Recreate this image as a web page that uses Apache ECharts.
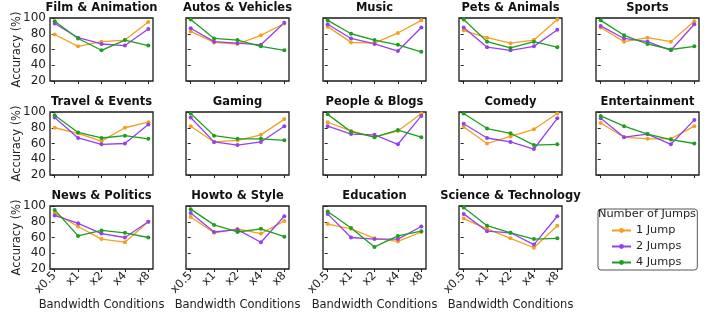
<!DOCTYPE html>
<html>
<head>
<meta charset="utf-8">
<script src="https://cdn.jsdelivr.net/npm/echarts@6/dist/echarts.min.js"></script>
<style>
  html, body { margin: 0; padding: 0; background: #fff; }
  #chart { width: 714px; height: 314px; }
</style>
</head>
<body>
<div id="chart"></div>
<script>
// bandwidth ticks
const CATEGORIES = ['x0.5', 'x1', 'x2', 'x4', 'x8'];

const GENRES = [
    'Film & Animation', 'Autos & Vehicles', 'Music', 'Pets & Animals', 'Sports',
    'Travel & Events', 'Gaming', 'People & Blogs', 'Comedy', 'Entertainment',
    'News & Politics', 'Howto & Style', 'Education', 'Science & Technology'
];

// accuracy (%) per genre, one row per genre
const ONE_JUMP = [
    [79, 64, 70, 72, 95],
    [83, 69, 67, 78, 93],
    [89, 69, 68, 81, 97],
    [84, 75, 68, 72, 98],
    [88, 70, 75, 70, 96],
    [80, 73, 63, 80, 87],
    [82, 62, 64, 71, 91],
    [87, 76, 68, 76, 98],
    [81, 60, 69, 78, 98],
    [86, 68, 66, 66, 82],
    [91, 74, 58, 54, 80],
    [86, 66, 71, 65, 81],
    [77, 71, 59, 55, 67],
    [84, 71, 59, 47, 75]
];

const TWO_JUMPS = [
    [93, 75, 67, 65, 86],
    [87, 70, 68, 66, 94],
    [92, 74, 67, 58, 88],
    [88, 63, 59, 64, 85],
    [90, 74, 70, 59, 92],
    [93, 67, 59, 60, 84],
    [93, 62, 58, 62, 82],
    [82, 72, 71, 59, 95],
    [85, 67, 62, 53, 92],
    [92, 68, 72, 59, 90],
    [88, 78, 65, 60, 80],
    [91, 67, 70, 54, 87],
    [90, 60, 58, 58, 74],
    [90, 68, 66, 51, 87]
];

const FOUR_JUMPS = [
    [96, 74, 59, 72, 65],
    [98, 74, 72, 64, 59],
    [97, 80, 72, 66, 57],
    [98, 70, 62, 70, 63],
    [97, 78, 67, 60, 64],
    [96, 74, 67, 70, 66],
    [98, 70, 66, 66, 64],
    [97, 75, 68, 77, 68],
    [98, 79, 73, 58, 59],
    [95, 82, 72, 65, 60],
    [95, 62, 69, 66, 60],
    [96, 76, 67, 71, 61],
    [93, 72, 48, 62, 68],
    [98, 75, 66, 58, 59]
];

const SERIES_DEF = [
    { name: '1 Jump', data: ONE_JUMP, color: '#F2A01E' },
    { name: '2 Jumps', data: TWO_JUMPS, color: '#9640EC' },
    { name: '4 Jumps', data: FOUR_JUMPS, color: '#1E9E1E' }
];

const FONT = 'DejaVu Sans';
const LEFTS = [50, 186, 323, 459, 596];
const TOPS = [18, 112, 206];
const W = 103, H = 63;

const chart = echarts.init(document.getElementById('chart'), null, { renderer: 'canvas' });

const grids = [], xAxes = [], yAxes = [], titles = [], series = [];

GENRES.forEach((genre, i) => {
    const row = Math.floor(i / 5), col = i % 5;
    // last row holds x labels; Entertainment sits above the legend slot so it has none
    const showX = row === 2;
    const showY = col === 0;

    grids.push({
        left: LEFTS[col], top: TOPS[row], width: W, height: H,
        show: true, borderColor: '#1a1a1a', borderWidth: 1.3, backgroundColor: 'transparent'
    });

    xAxes.push({
        gridIndex: i,
        type: 'value',
        min: -0.2,
        max: 4.2,
        splitLine: { show: false },
        axisLine: { show: false },
        axisTick: {
            show: true, length: 3, customValues: [0, 1, 2, 3, 4],
            lineStyle: { color: '#222', width: 1 }
        },
        axisLabel: {
            show: showX,
            customValues: [0, 1, 2, 3, 4],
            formatter: v => CATEGORIES[Math.round(v)],
            rotate: 45,
            margin: 5,
            color: '#222',
            fontFamily: FONT,
            fontSize: 11.5
        },
        name: showX ? 'Bandwidth Conditions' : '',
        nameLocation: 'middle',
        nameGap: 27,
        nameTextStyle: { color: '#222', fontFamily: FONT, fontSize: 11.5 }
    });

    yAxes.push({
        gridIndex: i,
        type: 'value',
        min: 20,
        max: 100,
        interval: 20,
        splitLine: { show: false },
        axisLine: { show: false },
        axisTick: { show: true, length: 3, lineStyle: { color: '#222', width: 1 } },
        axisLabel: {
            show: showY,
            margin: 4,
            color: '#222',
            fontFamily: FONT,
            fontSize: 12
        },
        name: showY ? 'Accuracy (%)' : '',
        nameLocation: 'middle',
        nameGap: 27,
        nameMoveOverlap: false,
        nameTextStyle: { color: '#222', fontFamily: FONT, fontSize: 11.5 }
    });

    titles.push({
        text: genre,
        left: LEFTS[col] + W / 2,
        top: TOPS[row] - 16,
        textAlign: 'center',
        padding: 0,
        textStyle: { fontFamily: FONT, fontSize: 11.5, fontWeight: 'bold', color: '#111' }
    });

    SERIES_DEF.forEach(s => {
        series.push({
            name: s.name,
            type: 'line',
            xAxisIndex: i,
            yAxisIndex: i,
            data: s.data[i].map((v, k) => [k, v]),
            symbol: 'circle',
            symbolSize: 4,
            showSymbol: true,
            color: s.color,
            lineStyle: { width: 1.3, color: s.color },
            itemStyle: { color: s.color },
            animation: false
        });
    });
});

// legend heading
titles.push({
    text: 'Number of Jumps',
    left: 647,
    top: 209,
    textAlign: 'center',
    padding: 0,
    textStyle: { fontFamily: FONT, fontSize: 11.3, fontWeight: 'normal', color: '#222' }
});

const option = {
    animation: false,
    title: titles,
    legend: {
        data: SERIES_DEF.map(s => s.name),
        orient: 'vertical',
        left: 598,
        top: 209,
        padding: [16, 16, 2, 13],
        itemGap: 5,
        itemWidth: 19,
        itemHeight: 6,
        itemTextGap: 6,
        borderColor: '#555',
        borderWidth: 1,
        borderRadius: 3,
        textStyle: { fontFamily: FONT, fontSize: 11.3, color: '#222' }
    },
    grid: grids,
    xAxis: xAxes,
    yAxis: yAxes,
    series: series
};

chart.setOption(option);
</script>
</body>
</html>
